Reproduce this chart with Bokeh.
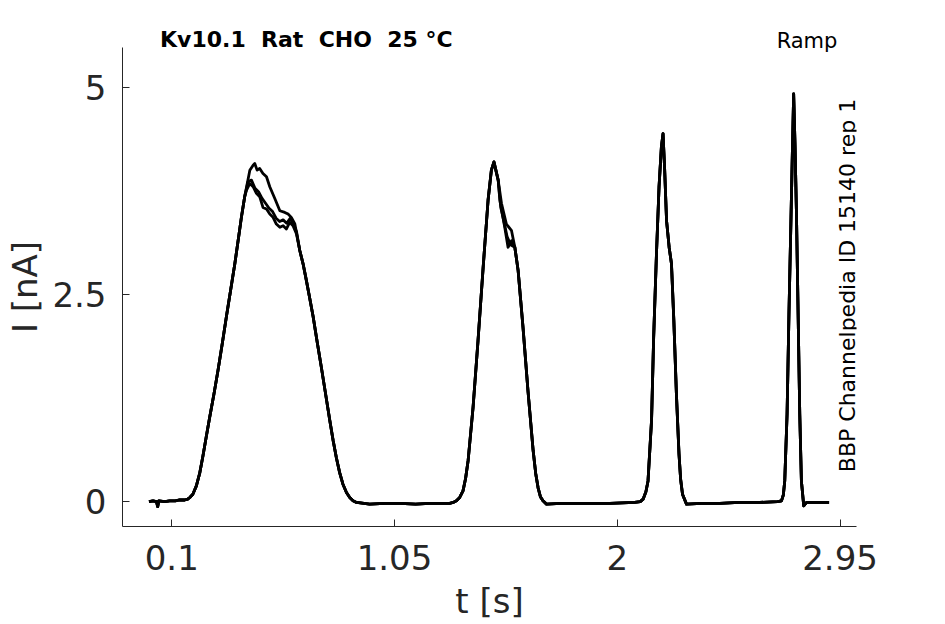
from bokeh.plotting import figure
from bokeh.models import Label, LinearAxis, FixedTicker
from bokeh.embed import file_html
from bokeh.resources import INLINE
import math

# ---- data (t in s, I in nA) ----
start_t = [0.003, 0.020, 0.035, 0.040, 0.045, 0.070, 0.091, 0.115, 0.134, 0.155,
           0.168, 0.177, 0.190, 0.205, 0.219, 0.233, 0.247, 0.262, 0.280, 0.297,
           0.315, 0.333, 0.351, 0.369, 0.384, 0.397, 0.411]
start_i = [0.00, 0.01, 0.00, -0.06, 0.01, 0.00, 0.01, 0.01, 0.02, 0.02,
           0.03, 0.05, 0.09, 0.19, 0.34, 0.55, 0.78, 1.02, 1.30, 1.58,
           1.90, 2.23, 2.55, 2.87, 3.17, 3.43, 3.68]

p1_upper_t = [0.433, 0.447, 0.454, 0.464, 0.475, 0.489, 0.504, 0.518, 0.539, 0.561,
              0.582, 0.596, 0.610, 0.625]
p1_upper_i = [4.00, 4.06, 4.08, 4.00, 4.02, 3.96, 3.92, 3.80, 3.66, 3.51,
              3.49, 3.47, 3.43, 3.35]

p1_lower_t = [0.419, 0.433, 0.447, 0.461, 0.475, 0.489, 0.504, 0.518, 0.532, 0.546,
              0.561, 0.575, 0.589, 0.603, 0.617, 0.632]
p1_lower_i = [3.76, 3.84, 3.80, 3.72, 3.68, 3.55, 3.53, 3.47, 3.43, 3.35,
              3.31, 3.33, 3.29, 3.37, 3.33, 3.23]

p1_mid_t = [0.425, 0.440, 0.455, 0.470, 0.485, 0.500, 0.515, 0.530, 0.545, 0.560,
            0.575, 0.590, 0.605, 0.620, 0.632]
p1_mid_i = [3.86, 3.88, 3.78, 3.74, 3.66, 3.60, 3.54, 3.50, 3.42, 3.38,
            3.40, 3.36, 3.42, 3.34, 3.26]

middle_t = [0.646, 0.660, 0.674, 0.688, 0.703, 0.720, 0.738, 0.756, 0.774, 0.788,
            0.802, 0.816, 0.830, 0.845, 0.859, 0.873, 0.888, 0.944, 1.010, 1.072,
            1.140, 1.200, 1.285, 1.300, 1.314, 1.328, 1.342, 1.353, 1.364, 1.385,
            1.406, 1.428, 1.449, 1.463, 1.474, 1.492]
middle_i = [3.03, 2.87, 2.67, 2.46, 2.23, 1.93, 1.62, 1.30, 0.98, 0.74,
            0.53, 0.35, 0.21, 0.11, 0.05, 0.01, -0.01, -0.03, -0.02, -0.02,
            -0.03, -0.02, -0.02, -0.01, 0.01, 0.05, 0.13, 0.28, 0.50, 1.14,
            1.94, 2.83, 3.64, 4.00, 4.10, 3.88]

p2_upper_t = [1.506, 1.527, 1.549, 1.563]
p2_upper_i = [3.60, 3.35, 3.27, 3.07]
p2_lower_t = [1.499, 1.520, 1.534, 1.549, 1.563]
p2_lower_i = [3.64, 3.31, 3.07, 3.15, 3.07]
p2_mid_t = [1.503, 1.515, 1.530, 1.545, 1.563]
p2_mid_i = [3.55, 3.40, 3.20, 3.10, 3.07]

tail_t = [1.577, 1.598, 1.619, 1.641, 1.652, 1.662, 1.672, 1.683, 1.698, 1.760,
          1.840, 1.968, 2.074, 2.098, 2.110, 2.122, 2.131, 2.146, 2.155, 2.167,
          2.178, 2.188, 2.195, 2.202, 2.210, 2.221, 2.231, 2.241, 2.252, 2.263,
          2.270, 2.278, 2.295, 2.360, 2.437, 2.520, 2.608, 2.684, 2.700, 2.708,
          2.714, 2.724, 2.732, 2.741, 2.747, 2.752, 2.758, 2.764, 2.771, 2.778,
          2.785, 2.795, 2.807, 2.863, 2.903]
tail_i = [2.79, 2.10, 1.34, 0.62, 0.34, 0.17, 0.06, 0.01, -0.03, -0.02,
          -0.02, -0.02, -0.01, 0.00, 0.03, 0.12, 0.25, 0.98, 1.98, 2.99,
          3.80, 4.28, 4.44, 4.00, 3.39, 3.07, 2.87, 2.19, 1.30, 0.58,
          0.27, 0.09, -0.03, -0.02, -0.02, -0.01, -0.01, 0.00, 0.01, 0.08,
          0.25, 1.06, 2.27, 3.47, 4.28, 4.92, 4.28, 3.47, 2.27, 1.06,
          0.25, -0.05, -0.01, -0.01, -0.01]

x_ticks = [0.1, 1.05, 2, 2.95]
x_tick_labels = ["0.1", "1.05", "2", "2.95"]
y_ticks = [0, 2.5, 5]
y_tick_labels = ["0", "2.5", "5"]

title_text = "Kv10.1 \u00a0Rat \u00a0CHO \u00a025 \u00b0C"
title_pos = 0.674
protocol_text = "Ramp"
protocol_pos = 2.809
side_text = "BBP Channelpedia ID 15140 rep 1"

traces = [
    (start_t + p1_upper_t + middle_t + p2_upper_t + tail_t,
     start_i + p1_upper_i + middle_i + p2_upper_i + tail_i),
    (start_t + p1_mid_t + middle_t + p2_mid_t + tail_t,
     start_i + p1_mid_i + middle_i + p2_mid_i + tail_i),
    (start_t + p1_lower_t + middle_t + p2_lower_t + tail_t,
     start_i + p1_lower_i + middle_i + p2_lower_i + tail_i),
]

FONT = "DejaVu Sans"
AX = "#262626"

p = figure(frame_width=734, frame_height=479,
           x_range=(-0.11, 3.02), y_range=(-0.30, 5.48),
           output_backend="svg", toolbar_location=None,
           min_border_left=122, min_border_top=47,
           min_border_right=78, min_border_bottom=96)
p.outline_line_color = None
p.background_fill_color = "white"
p.border_fill_color = "white"
p.xgrid.visible = False
p.ygrid.visible = False

for tt, ii in traces:
    p.line(x=tt, y=ii, line_color="black", line_width=2.8, line_join="round")

for ax in (p.xaxis[0], p.yaxis[0]):
    ax.axis_line_color = AX
    ax.axis_line_width = 1
    ax.major_tick_line_color = AX
    ax.major_tick_in = 7
    ax.major_tick_out = 0
    ax.minor_tick_line_color = None
    ax.major_label_text_font = FONT
    ax.major_label_text_font_size = "34px"
    ax.major_label_text_color = AX
    ax.axis_label_text_font = FONT
    ax.axis_label_text_font_size = "34px"
    ax.axis_label_text_font_style = "normal"
    ax.axis_label_text_color = AX

p.xaxis.ticker = x_ticks
p.xaxis.major_label_overrides = {t: s for t, s in zip(x_ticks, x_tick_labels)}
p.xaxis.major_label_standoff = 18
p.xaxis.axis_label = "t [s]"
p.xaxis.axis_label_standoff = 8

p.yaxis.ticker = y_ticks
p.yaxis.major_label_overrides = {t: s for t, s in zip(y_ticks, y_tick_labels)}
p.yaxis.major_label_standoff = 16
p.yaxis.axis_label = "I [nA]"
p.yaxis.axis_label_standoff = 4


def text_axis(pos, txt, size, style, standoff):
    a = LinearAxis(ticker=FixedTicker(ticks=[pos]),
                   major_label_overrides={pos: txt})
    a.axis_line_color = None
    a.major_tick_line_color = None
    a.minor_tick_line_color = None
    a.major_tick_in = 0
    a.major_tick_out = 0
    a.minor_tick_in = 0
    a.minor_tick_out = 0
    a.major_label_standoff = standoff
    a.major_label_text_font = FONT
    a.major_label_text_font_size = size
    a.major_label_text_font_style = style
    a.major_label_text_color = "black"
    return a


p.add_layout(text_axis(protocol_pos, protocol_text, "21px", "normal", -5), "above")
p.add_layout(text_axis(title_pos, title_text, "22px", "bold", -26), "above")

p.add_layout(Label(x=725, y=241, x_units="screen", y_units="screen",
                   text=side_text, text_font=FONT,
                   text_font_size="22px", text_color="black",
                   text_align="center", text_baseline="alphabetic",
                   angle=math.pi / 2, level="overlay"))

open("out.html", "w").write(file_html(p, INLINE))
